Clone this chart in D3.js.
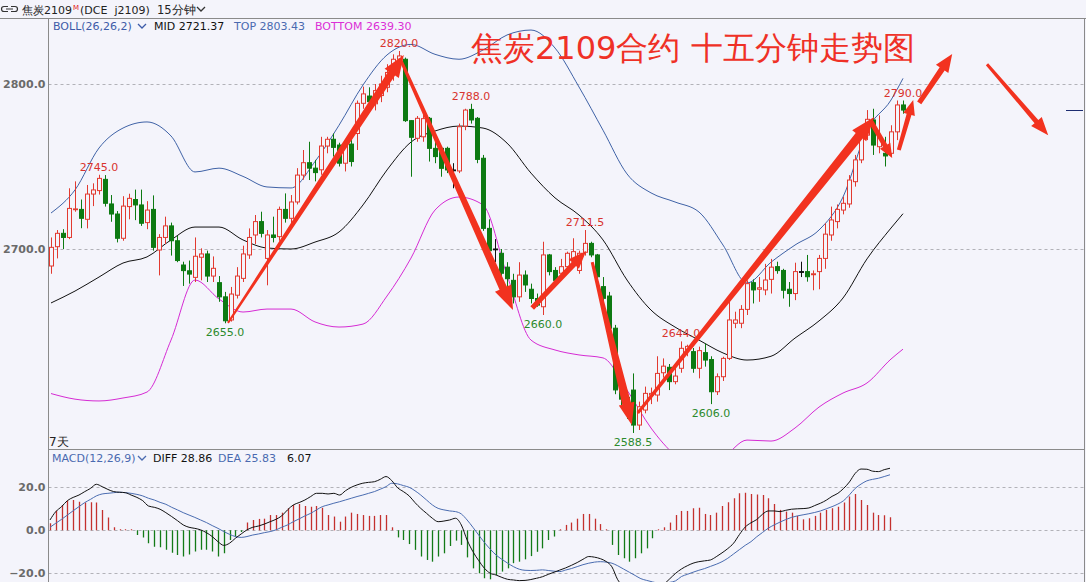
<!DOCTYPE html>
<html><head><meta charset="utf-8">
<script src="https://cdn.jsdelivr.net/npm/d3@7"></script>
<style>
body{margin:0;background:#f4f4fb;}
svg{display:block;}
text{font-family:"DejaVu Sans",sans-serif;}
</style>
</head><body>
<svg id="c" width="1086" height="582"></svg>
<script>
// ---------- DATA ----------
const open  = [2689.7,2701.4,2709.5,2707,2724,2724,2718,2733.3,2735.4,2742.2,2727.3,2721.2,2706.5,2725.7,2730,2726.7,2716,2724,2699.4,2707,2714,2705,2690.3,2686.8,2682.8,2695,2697,2683.6,2679.6,2671,2657,2672,2682.2,2696.4,2708.5,2716.6,2694.3,2708.5,2707.5,2724,2718.6,2728.5,2744.8,2752.3,2749,2748,2762.4,2766.5,2763,2752,2763.6,2770,2788.3,2792.7,2788,2793,2798,2806,2815,2815,2777.8,2767.1,2768,2779.2,2761,2761,2761,2747.9,2747.3,2774.5,2784.6,2779.2,2755,2712.5,2700,2697.4,2689,2681,2671,2684.2,2675.6,2670,2665,2696.4,2687,2685.3,2689.3,2693.3,2687,2698,2703.4,2696.4,2677.2,2671.5,2652,2614.6,2610,2614.5,2593.3,2602.4,2611.5,2611.5,2625,2628.3,2619.6,2627.7,2639,2637.8,2627.7,2637.2,2633,2613.5,2622.6,2633.7,2655,2655,2663.4,2679.6,2675.6,2675.2,2681.6,2689.3,2687,2675.6,2673,2686.3,2686.3,2684.4,2686.3,2694.3,2708.5,2716.6,2723.6,2727.3,2740.8,2754,2769,2778.2,2762,2758,2758,2771,2787.3];
const high  = [2707,2711.5,2712,2736.8,2741,2730,2738.8,2739.8,2745,2744.8,2732.7,2723,2732,2733.5,2736,2736,2729,2732.5,2709,2719.6,2716,2708,2692.3,2693,2707,2700.4,2699,2695.5,2683.6,2674,2677,2689,2702,2712.5,2720.6,2722.6,2711.5,2719.6,2725.7,2733.7,2732.7,2749,2760,2765,2754,2768,2768,2770,2764.4,2766,2766,2790,2798.4,2798,2800,2805,2812,2818,2820,2816,2778,2780.6,2784,2780,2766,2762,2762,2752,2776,2785,2788,2780,2757,2718,2706,2700,2692,2685,2692,2687,2679,2673,2704.4,2697,2689,2694,2698.4,2706.5,2699,2711.5,2704.4,2697,2683,2674,2654,2620,2614,2624.6,2607.5,2616.6,2616,2635,2633.7,2630.3,2628.7,2644,2642,2640,2640.8,2642.8,2635,2624.6,2634.7,2668,2662,2666,2681,2681.6,2683,2691,2694,2692.3,2688,2680,2691.7,2692.3,2696.4,2687,2696.4,2715.6,2725.7,2727,2731.7,2744.8,2757,2773,2784.2,2785,2781,2768,2775,2790,2790];
const low   = [2685,2694.3,2700,2706,2722.6,2712.6,2712.5,2726,2733,2725.7,2716.5,2704,2705,2718,2717.5,2714,2712,2699,2684,2703,2696,2692,2677.6,2679,2680,2681,2680,2680,2668,2655,2656,2670,2680,2694,2703,2707,2678,2704,2705,2716,2715,2727,2742,2741.8,2741,2745,2758,2756,2750,2747,2750,2760,2785,2786,2784,2789,2795,2802,2811,2777,2743.8,2765,2765,2753,2752,2743.8,2746,2736.8,2746,2772,2776,2752,2711,2696,2692,2673,2674,2667,2668,2674,2667,2665,2660,2684,2679,2683,2686,2690,2685,2696,2695,2682,2668,2650,2612,2605,2597,2588.5,2590.3,2600.4,2606,2607.5,2622,2614.5,2618,2625,2635,2625,2621.6,2628.7,2606,2611.5,2620,2632.7,2652,2652,2660,2667,2668,2672,2673,2685,2670,2665,2669,2683,2680.2,2675,2675.6,2688,2705,2712.5,2721,2725,2737.8,2752,2766,2757,2758,2750,2756,2766,2782];
const close = [2701,2709.5,2707,2724.6,2724.3,2718.6,2733.3,2735.8,2742.8,2727.7,2721.2,2706.5,2726,2730.7,2726.7,2715.6,2723.6,2701,2707,2714,2705,2693,2686.9,2684.8,2695.6,2697,2683.6,2688.3,2671,2656.5,2672.7,2683.6,2697,2707,2716.6,2709.5,2708.5,2707,2724,2718.6,2728.5,2744.8,2752.3,2749,2746.3,2762.4,2766.5,2761.6,2752,2763,2753,2788.3,2794,2789.3,2796,2800,2807,2815,2817,2777.8,2767.7,2779.2,2779,2761,2756,2748.9,2747.9,2747.9,2774.1,2784.2,2778.2,2754.3,2712.5,2699,2700,2685.3,2682,2671,2684.2,2678.2,2670,2666,2696.4,2686.3,2681,2689.3,2697.4,2698.4,2697.4,2703.4,2696.4,2683.2,2670.1,2652,2614.6,2609,2600,2593.3,2604.4,2612.5,2612.5,2624.6,2629,2619.6,2623,2639.8,2641,2627.7,2638.4,2632.7,2613.5,2622.6,2633.7,2657,2657,2663.4,2679,2675.2,2676.5,2681.2,2689,2686.9,2675,2673,2686.3,2686.3,2683.2,2685,2694.3,2709,2717.6,2724,2727.7,2741.8,2754,2770,2778.6,2763,2768,2756.4,2771,2787.3,2784.2];

// Bollinger band values read at candle indices
const bollIdx = [0,4,8,12,16,20,24,28,32,36,40,44,48,52,56,60,64,68,72,76,80,84,88,92,96,100,104,108,112,116,120,124,128,132,136,140,142];
const bollTop = [2721.8,2735.8,2761.2,2773.3,2777,2768.5,2746.7,2749,2744,2737.6,2737,2753,2775,2799.4,2817.6,2824,2818,2815,2820.6,2829.7,2832.7,2821.8,2798.2,2772,2745.5,2734,2728.5,2722.4,2702.4,2679.4,2692,2702.4,2711.5,2731.5,2772,2790.3,2803.4];
const bollMid = [2667.3,2674.5,2683,2691.5,2695.2,2705.5,2713.3,2713.3,2705.5,2700.6,2700,2704.2,2710.3,2726.7,2747.9,2764.8,2771.5,2774.5,2773.3,2764.2,2746,2731,2720.6,2705.5,2681.2,2663,2652.7,2644.8,2637,2632.7,2635,2646,2656.4,2670.3,2694,2712.7,2721.4];
const bollBot = [2612.4,2609,2607.9,2609.7,2613.3,2644.8,2681.2,2669.7,2661.8,2663.6,2663.6,2655.8,2652.7,2654.5,2671.5,2694.5,2723.6,2731.5,2726.7,2684.2,2644.8,2638.8,2635.8,2634,2614.5,2591.5,2575,2566,2573.3,2584.2,2583.6,2591.5,2604.2,2612.7,2618.8,2633.3,2639.3];

// high / low annotations
const markIdx  = [8,29,58,70,82,89,97,105,110,142];
const markVal  = [2745.0,2655.0,2820.0,2788.0,2660.0,2711.5,2588.5,2644.0,2606.0,2790.0];
const markType = ['H','L','H','H','L','H','L','H','L','H'];

// MACD panel
const macdHist = [3.3,9.1,11.8,13.8,14.1,13.3,12.9,13.0,12.9,9.5,6.0,1.4,0.5,0.2,0.1,
 -2.2,-3.3,-6.0,-7.6,-7.9,-9.1,-10.4,-11.5,-12.2,-11.2,-9.9,-9.1,-9.1,-9.9,-12.2,-10.7,-4.5,-2.9,-0.8,
 3.6,4.8,5.3,5.4,7.1,7.1,8.2,10.2,11.8,12.2,11.3,11.0,11.3,10.5,7.1,6.4,4.0,6.4,8.2,7.6,7.1,6.7,6.7,7.1,7.1,1.4,
 -3.3,-4.5,-6.4,-9.1,-12.2,-13.8,-14.6,-12.2,-10.7,-7.3,-4.8,-6.8,-12.6,-17.7,-20.0,-22.3,-22.8,-20.8,-19.2,-17.7,-15.3,-14.6,
 -13.5,-12.0,-10.0,
 -8.4,-4.5,-2.9,0.1,2.5,3.6,5.4,7.6,7.6,5.4,2.9,0.3,-6.8,-11.5,-13.0,-14.6,-13.0,-10.7,-8.4,-3.7,0.1,1.4,3.6,7.1,9.0,9.0,10.2,10.5,7.6,7.1,8.2,11.3,13.0,14.9,17.2,17.5,16.9,16.7,16.4,14.9,12.2,9.5,8.7,8.2,6.7,5.1,5.6,6.7,8.2,9.5,10.2,11.0,12.9,15.7,16.9,14.1,11.8,8.2,7.1,7.0,6.07];
const macdDiff = [4.8,8.7,11.0,13.8,15.3,16.4,18.0,19.5,21.4,20.3,19.0,18.0,17.7,17.5,16.4,
 15.3,13.8,11.3,10.7,9.8,8.2,6.4,4.5,2.5,1.4,0.9,0.2,-1.1,-2.9,-5.3,-7.0,-6.0,-3.7,-1.7,
 0.2,1.4,2.0,2.9,4.0,5.1,6.7,9.5,11.8,12.9,14.1,15.7,17.2,17.2,16.9,17.2,16.4,18.4,20.0,21.1,21.9,22.3,22.6,23.7,25.0,23.1,
 19.8,18.0,16.0,12.9,10.2,7.9,5.6,4.0,4.3,4.8,5.6,2.5,-4.5,-9.9,-14.1,-17.7,-20.0,-20.8,-21.9,-22.8,-23.1,-23.4,
 -23.3,-22.9,-22.3,
 -21.6,-20.5,-19.5,-18.5,-17.5,-16.3,-15.0,-13.5,-12.2,-12.5,-13.2,-14.5,-17.0,-23.0,-26.0,-27.5,-29.0,-30.0,-29.5,-28.0,-26.5,-25.0,-22.5,-20.0,-18.0,-16.5,-15.3,-14.6,-14.2,-13.8,-12.3,-10.5,-8.5,-6.0,-2.0,1.5,3.5,5.0,7.5,9.0,9.0,8.7,9.3,9.8,10.0,10.1,10.4,11.5,12.6,14.0,15.8,17.2,19.5,22.5,26.5,28.5,28.4,27.5,27.3,28.2,28.86];
const macdDea = [1.4,3.3,5.1,7.1,9.1,11.0,12.9,14.4,16.0,16.9,17.2,17.5,17.7,17.5,17.2,
 16.7,16.0,14.9,14.1,13.0,12.1,10.7,9.5,8.2,7.1,6.0,4.8,3.6,2.2,0.9,-0.6,-1.9,-2.9,-3.3,
 -2.9,-2.2,-1.7,-1.1,-0.6,0.2,1.4,2.5,4.0,5.3,6.7,7.9,9.5,11.0,11.8,12.6,13.3,14.1,14.9,15.7,16.4,17.2,18.0,19.1,20.3,21.9,
 21.6,20.8,20.0,18.4,16.4,14.1,11.8,10.2,9.5,9.0,8.7,7.6,4.8,1.4,-2.2,-5.7,-8.8,-11.5,-13.5,-15.3,-16.9,-18.1,
 -18.6,-18.7,-18.6,
 -18.4,-18.7,-19.0,-19.2,-18.5,-17.8,-16.9,-16.0,-15.3,-14.8,-14.6,-14.8,-15.3,-16.5,-18.0,-19.5,-21.0,-22.5,-23.3,-24.0,-24.5,-24.5,-24.2,-23.5,-21.5,-20.5,-19.5,-18.6,-17.8,-16.8,-15.8,-14.6,-13.0,-11.0,-9.0,-7.0,-5.3,-3.0,-1.0,1.0,2.5,3.8,5.0,6.0,6.7,7.2,7.7,8.3,9.0,10.0,11.0,12.2,13.8,16.5,19.5,21.5,23.0,23.7,24.2,25.0,25.83];

// tick values
const priceTicks = [2700, 2800];
const macdTicks  = [20, 0, -20];

// hand-drawn trend arrows: [startIndex, startPrice, endIndex, endPrice]
const arrowFromIdx = [29.5, 58.3, 80.2, 90.2, 97.8, 136.7, 141.3, 144.7, 156.0];
const arrowFromVal = [2655.2, 2814.5, 2664.2, 2692.0, 2600.6, 2777.0, 2760.0, 2788.5, 2812.0];
const arrowToIdx   = [58.8, 77.0, 89.2, 96.8, 137.2, 140.2, 143.7, 150.2, 166.2];
const arrowToVal   = [2817.6, 2663.0, 2698.8, 2593.3, 2780.0, 2755.2, 2790.3, 2818.2, 2769.0];

// ---------- DRAW ----------
const svg = d3.select('#c');
const W = 1086, H = 582;
const L = 48.5, R = 1084.5, mainTop = 18.5, mainBot = 449.5, macdBot = 582;

const x  = d3.scaleLinear().domain([0, 142]).range([51, 903]);
const y  = d3.scaleLinear().domain([2700, 2800]).range([249, 84]);
const xm = d3.scaleLinear().domain([0, macdHist.length - 1]).range([50, 890]);
const ym = d3.scaleLinear().domain([0, 20]).range([530.3, 487.3]);

svg.append('rect').attr('width', W).attr('height', H).attr('fill', '#f4f4fb');

const defs = svg.append('defs');
defs.append('clipPath').attr('id', 'clipMain').append('rect')
  .attr('x', L).attr('y', mainTop).attr('width', R - L).attr('height', mainBot - mainTop);
defs.append('clipPath').attr('id', 'clipMacd').append('rect')
  .attr('x', L).attr('y', mainBot).attr('width', R - L).attr('height', macdBot - mainBot);

// grid lines
const grid = svg.append('g');
grid.selectAll('.pg').data(priceTicks).enter().append('line')
  .attr('x1', L).attr('x2', R).attr('y1', d => Math.round(y(d)) + 0.5).attr('y2', d => Math.round(y(d)) + 0.5)
  .attr('stroke', '#b2b2b8').attr('stroke-dasharray', '3,3');
grid.selectAll('.mg').data(macdTicks).enter().append('line')
  .attr('x1', L).attr('x2', R).attr('y1', d => Math.round(ym(d)) + 0.5).attr('y2', d => Math.round(ym(d)) + 0.5)
  .attr('stroke', '#b2b2b8').attr('stroke-dasharray', '3,3');

// axes (labels)
const axP = svg.append('g').attr('transform', `translate(${L},0)`)
  .call(d3.axisLeft(y).tickValues(priceTicks).tickFormat(d3.format('.1f')).tickSize(0).tickPadding(3));
const axM = svg.append('g').attr('transform', `translate(${L},0)`)
  .call(d3.axisLeft(ym).tickValues(macdTicks).tickFormat(d3.format('.1f')).tickSize(0).tickPadding(3));
[axP, axM].forEach(a => {
  a.select('.domain').remove();
  a.selectAll('text').attr('font-family', 'DejaVu Sans').attr('font-size', 11)
    .attr('fill', '#6a6a6a').attr('font-weight', 'bold');
});

// frame
const frame = svg.append('g').attr('stroke', '#8a8a8a').attr('fill', 'none');
frame.append('line').attr('x1', 0).attr('x2', W).attr('y1', mainTop).attr('y2', mainTop);
frame.append('line').attr('x1', L).attr('x2', L).attr('y1', mainTop).attr('y2', macdBot);
frame.append('line').attr('x1', R).attr('x2', R).attr('y1', mainTop).attr('y2', macdBot);
frame.append('line').attr('x1', L).attr('x2', R).attr('y1', mainBot).attr('y2', mainBot);

// main panel
const gMain = svg.append('g').attr('clip-path', 'url(#clipMain)');

// bollinger
const bl = (vals) => d3.line().x((d, i) => x(bollIdx[i])).y(d => y(d)).curve(d3.curveMonotoneX)(vals);
gMain.append('path').attr('d', bl(bollTop)).attr('fill', 'none').attr('stroke', '#3f62a6').attr('stroke-width', 1);
gMain.append('path').attr('d', bl(bollMid)).attr('fill', 'none').attr('stroke', '#111').attr('stroke-width', 1);
gMain.append('path').attr('d', bl(bollBot)).attr('fill', 'none').attr('stroke', '#d52bd3').attr('stroke-width', 1);

// candles
const red = '#e23a30', green = '#0d7a12';
const cdata = open.map((o, i) => ({i, o, h: high[i], l: low[i], c: close[i]}));
const col = d => d.c > d.o ? red : (d.c < d.o ? green : '#111');
const cg = gMain.append('g');
const bw = 5;
cg.selectAll('.wk').data(cdata).enter().append('line')
  .attr('x1', d => Math.round(x(d.i)) + 0.5).attr('x2', d => Math.round(x(d.i)) + 0.5)
  .attr('y1', d => y(d.h)).attr('y2', d => y(d.l))
  .attr('stroke', col).attr('stroke-width', 1);
cg.selectAll('.bd').data(cdata).enter().append('rect')
  .attr('x', d => Math.round(x(d.i)) - 2 + 0.5)
  .attr('width', bw - 1)
  .attr('y', d => Math.min(y(d.o), y(d.c)))
  .attr('height', d => Math.max(0.8, Math.abs(y(d.o) - y(d.c))))
  .attr('fill', d => d.c > d.o ? '#f4f4fb' : col(d))
  .attr('stroke', col).attr('stroke-width', 1);

// high/low labels
gMain.selectAll('.mk').data(markIdx).enter().append('text')
  .attr('x', (d) => x(d))
  .attr('y', (d, k) => markType[k] === 'H' ? y(markVal[k]) - 4 : y(markVal[k]) + 13)
  .attr('text-anchor', 'middle').attr('font-size', 11)
  .attr('fill', (d, k) => markType[k] === 'H' ? '#d8332e' : '#2c8a2c')
  .text((d, k) => d3.format('.1f')(markVal[k]));

// last price marker
svg.append('line').attr('x1', 1066).attr('x2', 1083)
  .attr('y1', Math.round(y(close[close.length - 1])) + 0.5).attr('y2', Math.round(y(close[close.length - 1])) + 0.5)
  .attr('stroke', '#1c2c70').attr('stroke-width', 1);

// MACD panel
const gM = svg.append('g').attr('clip-path', 'url(#clipMacd)');
gM.selectAll('.hb').data(macdHist).enter().append('line')
  .attr('x1', (d, i) => Math.round(xm(i)) + 0.5).attr('x2', (d, i) => Math.round(xm(i)) + 0.5)
  .attr('y1', ym(0)).attr('y2', d => Math.abs(d) < 0.6 ? ym(0) - 1 : ym(d))
  .attr('stroke', d => d >= 0 ? '#c4302e' : '#137a17').attr('stroke-width', 1.3);
const ml = (vals) => d3.line().x((d, i) => xm(i)).y(d => ym(d)).curve(d3.curveMonotoneX)(vals);
gM.append('path').attr('d', ml(macdDea)).attr('fill', 'none').attr('stroke', '#4a6cb0').attr('stroke-width', 1);
gM.append('path').attr('d', ml(macdDiff)).attr('fill', 'none').attr('stroke', '#111').attr('stroke-width', 1);

// arrows
const ga = svg.append('g');
const arrowW0 = [2, 3, 5, 3, 3, 5, 4, 5, 3];
const arrowW1 = [8, 8, 6, 9, 9, 5, 5, 6, 5];
const headW   = [17, 18, 14, 16, 18, 12, 12, 15, 14];
const headL   = [22, 24, 18, 22, 24, 14, 15, 18, 18];
arrowFromIdx.forEach((fi, k) => {
  const x0 = x(fi), y0 = y(arrowFromVal[k]), x1 = x(arrowToIdx[k]), y1 = y(arrowToVal[k]);
  const dx = x1 - x0, dy = y1 - y0, len = Math.hypot(dx, dy);
  const ux = dx / len, uy = dy / len, nx = -uy, ny = ux;
  const bx = x1 - ux * headL[k], by = y1 - uy * headL[k];
  const w0 = arrowW0[k] / 2, w1 = arrowW1[k] / 2, hw = headW[k] / 2;
  const pts = [
    [x0 + nx * w0, y0 + ny * w0], [bx + nx * w1, by + ny * w1], [bx + nx * hw, by + ny * hw],
    [x1, y1],
    [bx - nx * hw, by - ny * hw], [bx - nx * w1, by - ny * w1], [x0 - nx * w0, y0 - ny * w0]
  ];
  ga.append('path').attr('d', 'M' + pts.map(p => p.join(',')).join('L') + 'Z').attr('fill', '#f2321f');
});

// big title
svg.append('text').attr('x', 471).attr('y', 59)
  .attr('font-family', '"Noto Sans CJK SC"').attr('font-size', 32).attr('fill', '#ef3026')
  .text('焦炭2109合约 十五分钟走势图');

// top bar
const tb = svg.append('g');
tb.append('path').attr('d', 'M8,6.5 H4 a2.5,2.5 0 0 0 0,5 H8 M11,6.5 H15 a2.5,2.5 0 0 1 0,5 H11 M6,9 H13')
  .attr('fill', 'none').attr('stroke', '#333').attr('stroke-width', 1.2);
const t1 = tb.append('text').attr('x', 22).attr('y', 13.5).attr('font-family', '"Noto Sans CJK SC"')
  .attr('font-size', 11).attr('fill', '#222');
t1.append('tspan').text('焦炭2109');
t1.append('tspan').attr('dx', 1).attr('dy', -4).attr('font-size', 7).attr('fill', '#e02020').text('M');
tb.append('text').attr('x', 80).attr('y', 13.5).attr('font-family', '"Noto Sans CJK SC"').attr('font-size', 11)
  .attr('fill', '#222').attr('xml:space', 'preserve').text('(DCE  j2109)');
tb.append('text').attr('x', 157).attr('y', 13.5).attr('font-family', '"Noto Sans CJK SC"').attr('font-size', 11.5)
  .attr('fill', '#222').text('15分钟');
const chev = (g, cx, cy, c) => g.append('path').attr('d', `M${cx},${cy} l4,4 l4,-4`).attr('fill', 'none').attr('stroke', c).attr('stroke-width', 1.3);
chev(tb, 197, 7, '#333');

// legends
const lg = svg.append('g').attr('font-size', 11);
lg.append('text').attr('x', 53).attr('y', 30).attr('fill', '#3d5ba8').text('BOLL(26,26,2)');
chev(lg, 138, 24, '#3d5ba8');
lg.append('text').attr('x', 154).attr('y', 30).attr('fill', '#111').text('MID ' + d3.format('.2f')(2721.37));
lg.append('text').attr('x', 234).attr('y', 30).attr('fill', '#4a6ab0').text('TOP ' + d3.format('.2f')(2803.43));
lg.append('text').attr('x', 315).attr('y', 30).attr('fill', '#db2fd6').text('BOTTOM ' + d3.format('.2f')(2639.30));

lg.append('text').attr('x', 52).attr('y', 461.5).attr('fill', '#4a6ab0').text('MACD(12,26,9)');
chev(lg, 138, 456, '#4a6ab0');
lg.append('text').attr('x', 153).attr('y', 461.5).attr('fill', '#111').text('DIFF ' + macdDiff[macdDiff.length - 1].toFixed(2));
lg.append('text').attr('x', 218).attr('y', 461.5).attr('fill', '#4a6ab0').text('DEA ' + macdDea[macdDea.length - 1].toFixed(2));
lg.append('text').attr('x', 287).attr('y', 461.5).attr('fill', '#111').text(macdHist[macdHist.length - 1].toFixed(2));

svg.append('text').attr('x', 49).attr('y', 446).attr('font-family', '"Noto Sans CJK SC"').attr('font-size', 12).attr('fill', '#222').text('7天');
</script>
</body></html>
